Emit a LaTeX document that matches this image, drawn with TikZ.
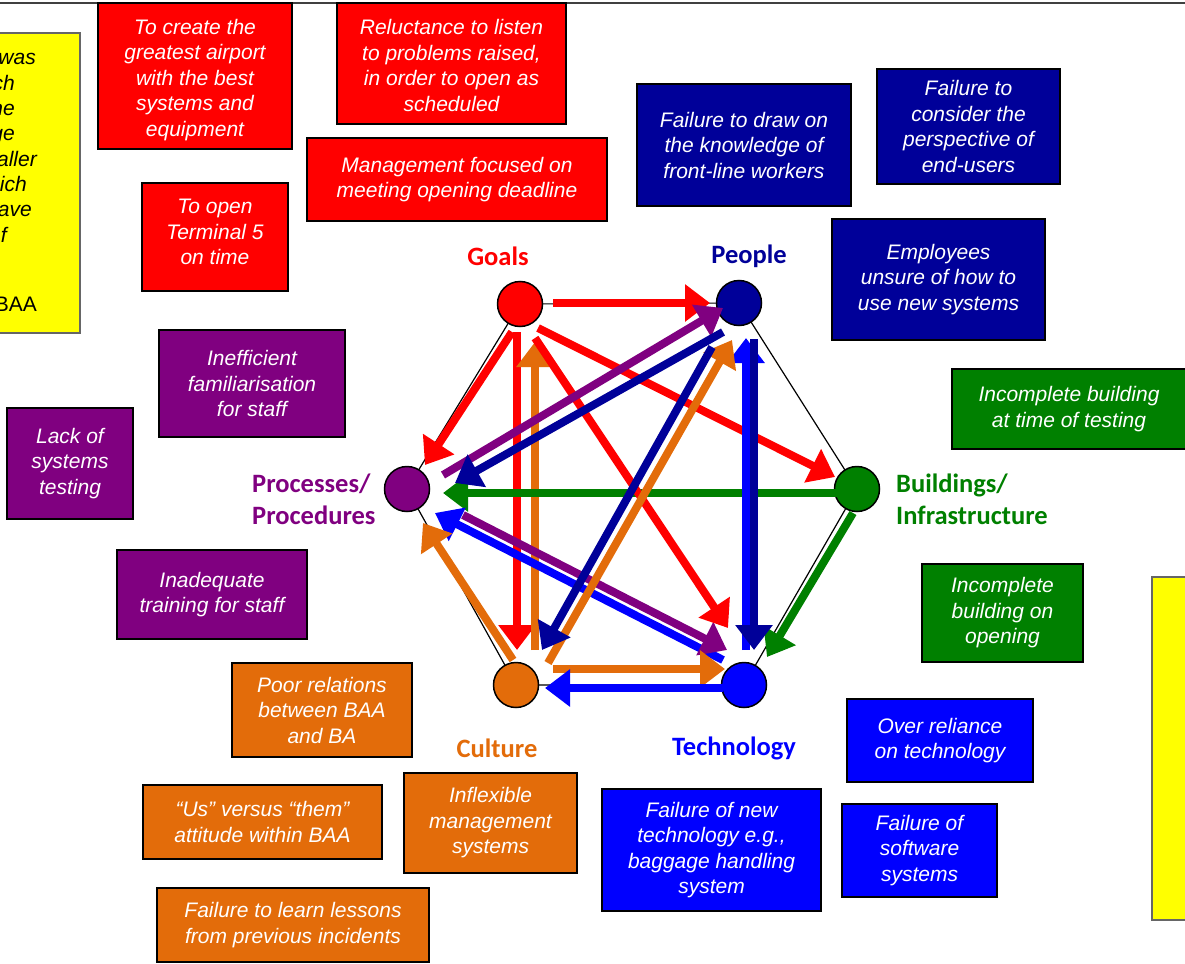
\documentclass[tikz,border=0pt]{standalone}
\usepackage{fontspec}
\setmainfont{Liberation Sans}
\newfontfamily\lblfont{Carlito}
\usetikzlibrary{arrows.meta,calc}
\definecolor{cRed}{RGB}{255,0,0}
\definecolor{cNavy}{RGB}{0,0,153}
\definecolor{cPurple}{RGB}{128,0,128}
\definecolor{cGreen}{RGB}{0,128,0}
\definecolor{cOrange}{RGB}{227,108,10}
\definecolor{cBlue}{RGB}{0,0,255}
\definecolor{cYellow}{RGB}{255,255,0}
\begin{document}
\begin{tikzpicture}[x=1pt,y=-1pt,
 box/.style={draw=black,line width=1.5pt,text=white,align=center,inner sep=0pt,font=\fontsize{21}{25.5}\selectfont\itshape},
 btext/.style={text=white,align=center,inner sep=0pt,font=\fontsize{21}{25.5}\selectfont\itshape},
 ybox/.style={draw=black!60,line width=1.5pt,fill=cYellow},
 lbl/.style={font=\lblfont\bfseries\fontsize{26.5}{32}\selectfont,inner sep=0pt},
 hub/.style={circle,draw=black,line width=1.5pt,minimum size=45pt,inner sep=0pt},
 arr/.style={line width=8pt,-{Triangle[width=36pt,length=25pt]}},
 hexline/.style={draw=black,line width=1.2pt},
 ytext/.style={font=\fontsize{21}{25.5}\selectfont\itshape,inner sep=0pt,anchor=base east}
]
\useasboundingbox (0,0) rectangle (1185,963);
\clip (0,0) rectangle (1185,963);
\fill[white] (0,0) rectangle (1185,963);

% top rule
\draw[line width=1.5pt,black!75] (-5,3) coordinate (tl) -- (1190,3) coordinate (tr);

% yellow boxes
\node[ybox,minimum width=100pt,minimum height=300pt,inner sep=0pt] (yl) at (30,183) {};
\node[ybox,minimum width=50pt,minimum height=343pt,inner sep=0pt] (yr) at (1177,748.5) {};
\node[ytext] (t1) at (36,65) {was};
\node[ytext] (t2) at (15,90.3) {ch};
\node[ytext] (t3) at (15,115.6) {he};
\node[ytext] (t4) at (15,140.9) {ge};
\node[ytext] (t5) at (37,166.2) {aller};
\node[ytext] (t6) at (27,191.5) {ich};
\node[ytext] (t7) at (32,216.8) {ave};
\node[ytext] (t8) at (7,242.1) {f};
\node[ytext,font=\fontsize{21}{25.5}\selectfont] (t9) at (37,311) {BAA};

% red boxes
\node[box,fill=cRed,minimum width=194pt,minimum height=146pt] (r1) at (195,76) {};
\node[btext] (r1t) at (195,80) {To create the\\greatest airport\\with the best\\systems and\\equipment};
\node[box,fill=cRed,minimum width=229pt,minimum height=121pt] (r2) at (451.5,63.5) {};
\node[btext] (r2t) at (451.5,65.5) {Reluctance to listen\\to problems raised,\\in order to open as\\scheduled};
\node[box,fill=cRed,minimum width=300pt,minimum height=83pt] (r3) at (457,179.5) {Management focused on\\meeting opening deadline};
\node[box,fill=cRed,minimum width=146pt,minimum height=108pt] (r4) at (215,237) {};
\node[btext] (r4t) at (215,232) {To open\\Terminal 5\\on time};

% navy boxes
\node[box,fill=cNavy,minimum width=214pt,minimum height=122pt] (n1) at (744,145) {Failure to draw on\\the knowledge of\\front-line workers};
\node[box,fill=cNavy,minimum width=183pt,minimum height=115pt] (n2) at (968.5,126.5) {Failure to\\consider the\\perspective of\\end-users};
\node[box,fill=cNavy,minimum width=213pt,minimum height=121pt] (n3) at (938.5,279.5) {Employees\\unsure of how to\\use new systems};

% purple boxes
\node[box,fill=cPurple,minimum width=186pt,minimum height=107pt] (p1) at (252,383.5) {Inefficient\\familiarisation\\for staff};
\node[box,fill=cPurple,minimum width=126pt,minimum height=111pt] (p2) at (70,463.5) {Lack of\\systems\\testing};
\node[box,fill=cPurple,minimum width=190pt,minimum height=89pt] (p3) at (212,594.5) {Inadequate\\training for staff};

% green boxes
\node[box,fill=cGreen,minimum width=234pt,minimum height=80pt] (g1) at (1069,409) {Incomplete building\\at time of testing};
\node[box,fill=cGreen,minimum width=161pt,minimum height=98pt] (g2) at (1002.5,613) {Incomplete\\building on\\opening};

% blue boxes
\node[box,fill=cBlue,minimum width=186pt,minimum height=83pt] (b1) at (940,740.5) {Over reliance\\on technology};
\node[box,fill=cBlue,minimum width=219pt,minimum height=122pt] (b2) at (711.5,850) {Failure of new\\technology e.g.,\\baggage handling\\system};
\node[box,fill=cBlue,minimum width=155pt,minimum height=93pt] (b3) at (919.5,850.5) {Failure of\\software\\systems};

% orange boxes
\node[box,fill=cOrange,minimum width=180pt,minimum height=94pt] (o1) at (322,710) {Poor relations\\between BAA\\and BA};
\node[box,fill=cOrange,minimum width=239pt,minimum height=74pt] (o2) at (262.5,822) {“Us” versus “them”\\attitude within BAA};
\node[box,fill=cOrange,minimum width=173pt,minimum height=100pt] (o3) at (490.5,823) {Inflexible\\management\\systems};
\node[box,fill=cOrange,minimum width=272pt,minimum height=74pt] (o4) at (293,925) {Failure to learn lessons\\from previous incidents};

% hub labels
\node[lbl,text=cRed] (lg) at (498,256) {Goals};
\node[lbl,text=cNavy] (lp) at (749,256) {People};
\node[lbl,text=cGreen,align=left,anchor=west] (lb) at (896,499) {Buildings/\\Infrastructure};
\node[lbl,text=cPurple,align=left,anchor=west] (lr) at (252,499) {Processes/\\Procedures};
\node[lbl,text=cOrange] (lc) at (497,748) {Culture};
\node[lbl,text=cBlue] (lt) at (734,748) {Technology};

% hubs
\coordinate (G) at (520,304);
\coordinate (P) at (739,303);
\coordinate (B) at (857,489);
\coordinate (R) at (407,489);
\coordinate (C) at (516,685);
\coordinate (T) at (744,685);
\draw[hexline] (G) -- (P) -- (B) -- (T) -- (C) -- (R) -- cycle;
\node[hub,fill=cRed] (hg) at (G) {};
\node[hub,fill=cNavy] (hp) at (P) {};
\node[hub,fill=cGreen] (hb) at (B) {};
\node[hub,fill=cPurple] (hr) at (R) {};
\node[hub,fill=cOrange] (hc) at (C) {};
\node[hub,fill=cBlue] (ht) at (T) {};

% arrows
\draw[arr,cRed] ($(hg)+(33,-1)$) -- ($(hp)+(-29,0)$);
\draw[arr,cRed] ($(hg)+(-8,28)$) -- ($(hr)+(18,-24)$);
\draw[arr,cRed] ($(hg)+(-3,28)$) -- ($(hc)+(1,-35)$);
\draw[arr,cOrange] ($(hc)+(19,-35)$) -- ($(hg)+(15,38)$);
\draw[arr,cRed] ($(hg)+(18,24)$) -- ($(hb)+(-22,-12)$);
\draw[arr,cGreen] ($(hb)+(-20,4)$) -- ($(hr)+(36,4)$);
\draw[arr,cGreen] ($(hb)+(-4,24)$) -- ($(ht)+(23,-28)$);
\draw[arr,cBlue] ($(ht)+(2,-35)$) -- ($(hp)+(7,35)$);
\draw[arr,cNavy] ($(hp)+(15,36)$) -- ($(ht)+(10,-35)$);
\draw[arr,cBlue] ($(ht)+(-21,-25)$) -- ($(hr)+(28,24)$);
\draw[arr,cPurple] ($(hr)+(56,26)$) -- ($(ht)+(-17,-35)$);
\draw[arr,cOrange] ($(hc)+(-3,-25)$) -- ($(hr)+(16,34)$);
\draw[arr,cOrange] ($(hc)+(37,-16)$) -- ($(ht)+(-19,-16)$);
\draw[arr,cBlue] ($(ht)+(-21,3)$) -- ($(hc)+(29,3)$);
\draw[arr,cRed] ($(hg)+(15,34)$) -- ($(ht)+(-16,-57)$);
\draw[arr,cOrange] ($(hc)+(32,-22)$) -- ($(hp)+(-7,37)$);
\draw[arr,cNavy] ($(hp)+(-27,44)$) -- ($(hc)+(26,-35)$);
\draw[arr,cPurple] ($(hr)+(36,-14)$) -- ($(hp)+(-16,5)$);
\draw[arr,cNavy] ($(hp)+(-16,29)$) -- ($(hr)+(48,-6)$);
\end{tikzpicture}
\end{document}
